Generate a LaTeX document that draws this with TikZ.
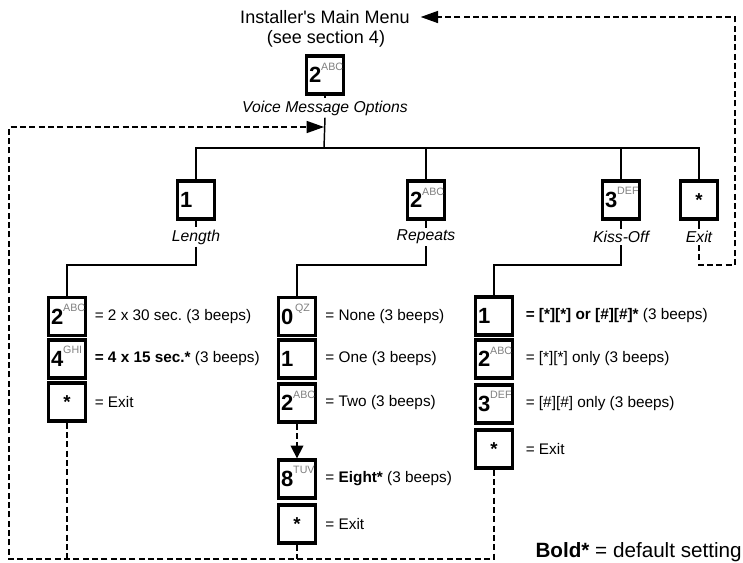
\documentclass[tikz,border=0pt]{standalone}
\usepackage{fontspec}
\setmainfont{Liberation Sans}
\usetikzlibrary{arrows.meta, calc}
\frenchspacing

% keypad key: big digit with small grey letters
\newcommand{\keycap}[2]{\makebox[24pt][l]{\fontsize{16.5}{16}\selectfont\bfseries #1\raisebox{9.5pt}[0pt][0pt]{\fontsize{8}{8}\selectfont\mdseries\color{gray}#2}}}
\newcommand{\keystar}{\makebox[24pt]{\fontsize{14}{14}\selectfont\bfseries *}}

\begin{document}
\begin{tikzpicture}[x=0.75pt, y=-0.75pt,
  key/.style={draw, line width=2.5pt, fill=white, minimum width=27.75pt, minimum height=28.5pt, inner sep=0pt},
  conn/.style={line width=1.1pt},
  back/.style={line width=1.1pt, dash pattern=on 4.5pt off 2.5pt},
  lbl/.style={font=\fontsize{11.8}{13}\selectfont\itshape, inner sep=1.5pt},
  txt/.style={anchor=west, inner sep=0pt, font=\fontsize{11.5}{13}\selectfont},
  bigtip/.style={-{Triangle[length=13pt, width=9pt]}},
  smalltip/.style={-{Triangle[length=9.5pt, width=9.5pt]}}]
  \useasboundingbox (0,0) rectangle (743,562);

  % main menu and option 2
  \node[font=\fontsize{13.5}{15}\selectfont, inner xsep=8pt, inner ysep=1pt] (menu) at (325,17) {Installer\textquotesingle s Main Menu};
  \node[font=\fontsize{13.5}{15}\selectfont] (sect) at (326,39) {(see section 4)};
  \node[key] (vmo) at (325,75) {\keycap{2}{ABC}};
  \node[lbl] (vmolbl) at (325,108) {Voice Message Options};
  \coordinate (hub) at (324,148);
  \coordinate (entry) at (324,127);
  \coordinate (split) at (0,265);
  \coordinate (ret) at (735,265);
  \coordinate (floor) at (9,559);

  % first level
  \node[key] (len) at (196,200) {\keycap{1}{}};
  \node[key] (rep) at (426,200) {\keycap{2}{ABC}};
  \node[key] (kis) at (621,200) {\keycap{3}{DEF}};
  \node[key] (ext) at (699,200) {\keystar};
  \node[lbl] (lenlbl) at (196,237) {Length};
  \node[lbl] (replbl) at (426,237) {Repeats};
  \node[lbl] (kislbl) at (621,237) {Kiss-Off};
  \node[lbl] (extlbl) at (699,237) {Exit};

  % length
  \node[key] (l2) at (67,316.5) {\keycap{2}{ABC}};
  \node[key] (l4) at (67,359) {\keycap{4}{GHI}};
  \node[key] (lx) at (67,402) {\keystar};
  \node[txt] (l2t) at ([xshift=5.5pt]l2.east) {= 2 x 30 sec. (3 beeps)};
  \node[txt] (l4t) at ([xshift=5.5pt]l4.east) {\textbf{= 4 x 15 sec.*} (3 beeps)};
  \node[txt] (lxt) at ([xshift=5.5pt]lx.east) {= Exit};

  % repeats
  \node[key] (r0) at (297,316.5) {\keycap{0}{\,QZ}};
  \node[key] (r1) at (297,359) {\keycap{1}{}};
  \node[key] (r2) at (297,403) {\keycap{2}{ABC}};
  \node[key] (r8) at (297,479) {\keycap{8}{TUV}};
  \node[key] (rx) at (297,524) {\keystar};
  \node[txt] (r0t) at ([xshift=6pt]r0.east) {= None (3 beeps)};
  \node[txt] (r1t) at ([xshift=6pt]r1.east) {= One (3 beeps)};
  \node[txt] (r2t) at ([xshift=6pt]r2.east) {= Two (3 beeps)};
  \node[txt] (r8t) at ([xshift=6pt]r8.east) {= \textbf{Eight*} (3 beeps)};
  \node[txt] (rxt) at ([xshift=6pt]rx.east) {= Exit};

  % kiss-off
  \node[key] (k1) at (494,316) {\keycap{1}{}};
  \node[key] (k2) at (494,359) {\keycap{2}{ABC}};
  \node[key] (k3) at (494,404) {\keycap{3}{DEF}};
  \node[key] (kx) at (494,449) {\keystar};
  \node[txt] (k1t) at ([xshift=8.5pt]k1.east) {\textbf{= [*][*] or [\#][\#]*} (3 beeps)};
  \node[txt] (k2t) at ([xshift=8.5pt]k2.east) {= [*][*] only (3 beeps)};
  \node[txt] (k3t) at ([xshift=8.5pt]k3.east) {= [\#][\#] only (3 beeps)};
  \node[txt] (kxt) at ([xshift=8.5pt]kx.east) {= Exit};

  \node[anchor=base east, inner sep=0pt, font=\fontsize{15.5}{17}\selectfont] (legend) at (742,557) {\textbf{Bold*} = default setting};

  % tree
  \draw[conn] (vmo.south) -- (vmolbl.north);
  \draw[conn] (vmolbl.south) -- (hub);
  \draw[conn] (len.north) |- (hub) -| (ext.north);
  \draw[conn] (rep.north) -- (rep.north |- hub);
  \draw[conn] (kis.north) -- (kis.north |- hub);
  \draw[conn] (len.south) -- (lenlbl.north);
  \draw[conn] (rep.south) -- (replbl.north);
  \draw[conn] (kis.south) -- (kislbl.north);
  \draw[conn] (ext.south) -- (extlbl.north);
  \draw[conn] (lenlbl.south) -- (lenlbl.south |- split) -| (l2.north);
  \draw[conn] (replbl.south) -- (replbl.south |- split) -| (r0.north);
  \draw[conn] (kislbl.south) -- (kislbl.south |- split) -| (k1.north);

  % dashed returns
  \draw[back, bigtip] (extlbl.south) |- (ret) |- (menu.east);
  \draw[back, smalltip] (r2.south) -- (r8.north);
  \draw[back] (lx.south) -- (lx.south |- floor);
  \draw[back] (rx.south) -- (rx.south |- floor);
  \draw[back, bigtip] (kx.south) |- (floor) |- (entry);
\end{tikzpicture}
\end{document}
